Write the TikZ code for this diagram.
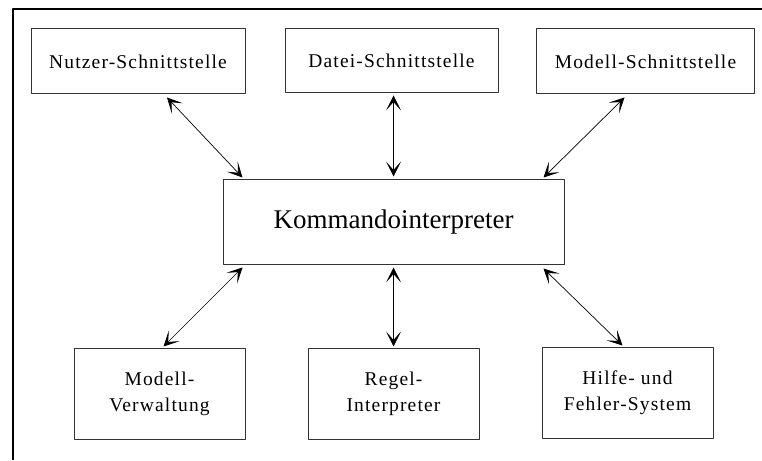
\documentclass[tikz,border=0pt]{standalone}
\usepackage{fontspec}
\setmainfont{Liberation Serif}
\newfontfamily\boxfont{Liberation Serif}[LetterSpace=6]
\usetikzlibrary{arrows.meta}
\begin{document}
\begin{tikzpicture}[x=1pt,y=1pt,line join=round,>={Stealth[length=15pt,width=15pt,inset=8.5pt]},
	kasten/.style={draw=black!80,line width=1pt,align=center,inner sep=0pt,font=\boxfont\fontsize{19.5}{26}\selectfont},
	pfeil/.style={<->,line width=0.7pt}]
	\useasboundingbox (0,0) rectangle (762,460);
	\draw[line width=2.2pt] (13,0)--(13,451)--(762,451);
	% obere Reihe
	\node[kasten,minimum width=214pt,minimum height=65pt] (nutzer) at (138,398.5) {Nutzer-Schnittstelle};
	\node[kasten,minimum width=213pt,minimum height=64pt] (datei) at (391.5,399) {Datei-Schnittstelle};
	\node[kasten,minimum width=218pt,minimum height=65pt] (modsch) at (645.5,398.5) {Modell-Schnittstelle};
	% Mitte
	\node[draw=black!80,line width=1pt,minimum width=341pt,minimum height=85pt,font=\fontsize{27}{30}\selectfont] (kommando) at (393.5,237.5) {Kommandointerpreter};
	% untere Reihe
	\node[kasten,minimum width=171pt,minimum height=90pt] (verw) at (159.5,66) {Modell-\\Verwaltung};
	\node[kasten,minimum width=171pt,minimum height=90pt] (regel) at (393.5,66) {Regel-\\Interpreter};
	\node[kasten,minimum width=171pt,minimum height=90pt] (hilfe) at (627.5,67) {Hilfe- und\\Fehler-System};
	\draw[pfeil] ([xshift=29pt,yshift=-3pt]nutzer.south)--([xshift=20pt,yshift=2pt]kommando.north west);
	\draw[pfeil] ([yshift=-2pt]kommando.north|-datei.south)--([yshift=3pt]kommando.north);
	\draw[pfeil] ([xshift=-21pt,yshift=-3pt]modsch.south)--([xshift=-21pt,yshift=2pt]kommando.north east);
	\draw[pfeil] ([xshift=20pt,yshift=-2pt]kommando.south west)--([xshift=4pt,yshift=2pt]verw.north);
	\draw[pfeil] ([yshift=-2pt]kommando.south)--([yshift=2pt]kommando.south|-regel.north);
	\draw[pfeil] ([xshift=-21pt,yshift=-3pt]kommando.south east)--([xshift=-5pt,yshift=2pt]hilfe.north);
\end{tikzpicture}
\end{document}
